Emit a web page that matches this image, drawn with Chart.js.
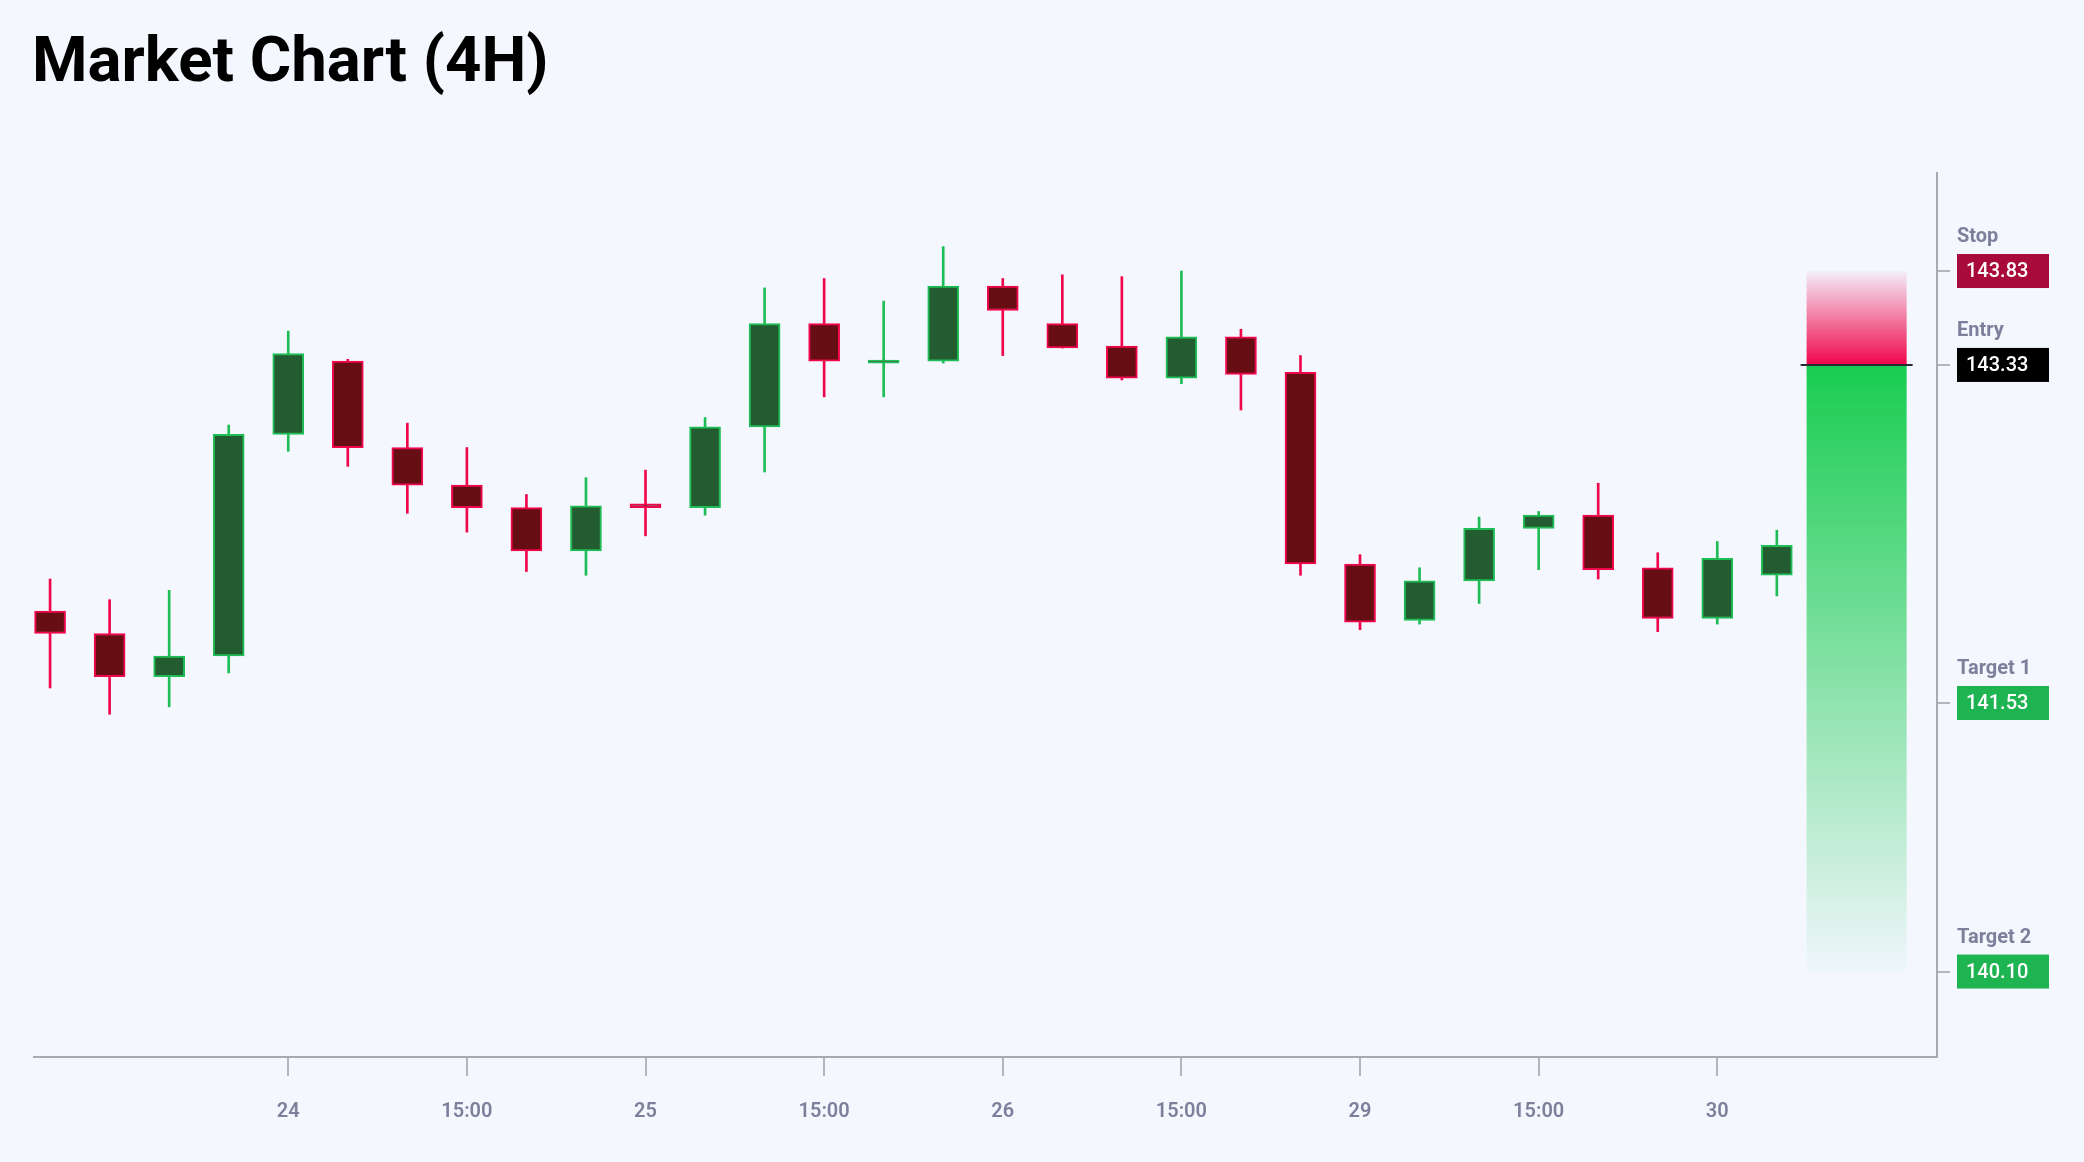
<!DOCTYPE html>
<html lang="en">
<head>
<meta charset="UTF-8">
<title>Market Chart (4H)</title>
<style>
    html, body {
        margin: 0;
        padding: 0;
        background: #f4f7fe;
    }
    body {
        width: 2084px;
        height: 1162px;
        position: relative;
        overflow: hidden;
        font-family: Roboto, Arial, sans-serif;
    }
    h1 {
        position: absolute;
        left: 32px;
        top: 28px;
        margin: 0;
        font-size: 63.5px;
        line-height: 1;
        font-weight: 700;
        color: #000;
    }
    canvas {
        position: absolute;
        left: 0;
        top: 0;
    }
</style>
</head>
<body>
<h1>Market Chart (4H)</h1>
<canvas id="chart" width="2084" height="1162"></canvas>

<script src="https://cdn.jsdelivr.net/npm/chart.js"></script>
<script>
    // 4H candles, oldest first
    const opens  = [142.02, 141.90, 141.67, 141.78, 142.96, 143.35, 142.89, 142.69, 142.57, 142.34,
                    142.59, 142.57, 143.00, 143.55, 143.34, 143.35, 143.75, 143.55, 143.43, 143.26,
                    143.48, 143.29, 142.27, 141.97, 142.18, 142.46, 142.53, 142.25, 141.98, 142.21];
    const highs  = [142.19, 142.08, 142.13, 143.01, 143.51, 143.36, 143.02, 142.89, 142.64, 142.73,
                    142.77, 143.05, 143.74, 143.79, 143.67, 143.96, 143.79, 143.81, 143.80, 143.83,
                    143.52, 143.38, 142.32, 142.25, 142.52, 142.55, 142.70, 142.33, 142.39, 142.45];
    const lows   = [141.61, 141.47, 141.51, 141.69, 142.87, 142.79, 142.54, 142.44, 142.23, 142.21,
                    142.42, 142.53, 142.76, 143.16, 143.16, 143.34, 143.38, 143.42, 143.25, 143.23,
                    143.09, 142.21, 141.92, 141.95, 142.06, 142.24, 142.19, 141.91, 141.95, 142.10];
    const closes = [141.90, 141.67, 141.78, 142.96, 143.39, 142.89, 142.69, 142.57, 142.34, 142.58,
                    142.57, 143.00, 143.55, 143.35, 143.35, 143.75, 143.62, 143.42, 143.26, 143.48,
                    143.28, 142.27, 141.96, 142.18, 142.46, 142.53, 142.24, 141.98, 142.30, 142.37];

    // x axis labels (candle index -> label)
    const xTickIndex  = [4, 7, 10, 13, 16, 19, 22, 25, 28];
    const xTickLabels = ['24', '15:00', '25', '15:00', '26', '15:00', '29', '15:00', '30'];
    const xRange = [-0.27, 31.69];
    const yRange = [139.645, 144.352];

    // trade levels
    const levelNames  = ['Stop', 'Entry', 'Target 1', 'Target 2'];
    const levelValues = [143.83, 143.33, 141.53, 140.10];
    const positionSpan = [29.5, 31.18];

    const UP_LINE = '#1fbd55', UP_FILL = '#245c31';
    const DOWN_LINE = '#f0064b', DOWN_FILL = '#670e14';
    const AXIS = '#a8aab2', TICK = '#b4b6bd', MUTED = '#7c809b';
    const levelColors = ['#a80a3b', '#000000', '#1fb452', '#1fb452'];

    const isUp = opens.map((o, i) => closes[i] >= o);
    const bodies = opens.map((o, i) => ({ x: i, y: [o, closes[i]] }));
    const wicks = lows.map((l, i) => ({ x: i, y: [l, highs[i]] }));

    const stop = levelValues[0], entry = levelValues[1], target = levelValues[3];

    const positionPlugin = {
        id: 'position',
        afterDatasetsDraw(chart) {
            const { ctx, scales: { x, y } } = chart;
            const x0 = x.getPixelForValue(positionSpan[0]);
            const x1 = x.getPixelForValue(positionSpan[1]);
            const yStop = y.getPixelForValue(stop);
            const yEntry = y.getPixelForValue(entry);
            const yTarget = y.getPixelForValue(target);
            ctx.save();
            let g = ctx.createLinearGradient(0, yStop, 0, yEntry);
            g.addColorStop(0, 'rgba(240, 6, 75, 0.03)');
            g.addColorStop(1, 'rgba(240, 6, 75, 1)');
            ctx.fillStyle = g;
            ctx.fillRect(x0, yStop, x1 - x0, yEntry - yStop);

            g = ctx.createLinearGradient(0, yEntry, 0, yTarget);
            g.addColorStop(0, 'rgba(24, 204, 80, 1)');
            g.addColorStop(1, 'rgba(24, 204, 80, 0.02)');
            ctx.fillStyle = g;
            ctx.fillRect(x0, yEntry, x1 - x0, yTarget - yEntry);

            ctx.strokeStyle = '#2b2b33';
            ctx.lineWidth = 2;
            ctx.beginPath();
            ctx.moveTo(x0 - 6, yEntry);
            ctx.lineTo(x1 + 6, yEntry);
            ctx.stroke();
            ctx.restore();
        },
        afterDraw(chart) {
            const { ctx, chartArea, scales: { y } } = chart;
            const left = chartArea.right + 20;
            ctx.save();
            levelValues.forEach((v, i) => {
                const py = y.getPixelForValue(v);
                ctx.fillStyle = levelColors[i];
                ctx.fillRect(left, py - 17, 92, 34);
                ctx.fillStyle = '#ffffff';
                ctx.font = '500 20px Roboto';
                ctx.textBaseline = 'middle';
                ctx.fillText(v.toFixed(2), left + 9, py + 1);
                ctx.fillStyle = MUTED;
                ctx.font = 'bold 20px Roboto';
                ctx.textBaseline = 'alphabetic';
                ctx.fillText(levelNames[i], left, py - 29);
            });
            ctx.restore();
        }
    };

    Chart.defaults.font.family = 'Roboto';

    const chart = new Chart(document.getElementById('chart'), {
        type: 'bar',
        data: {
            datasets: [{
                label: 'Body',
                data: bodies,
                backgroundColor: ctx => isUp[ctx.dataIndex] ? UP_FILL : DOWN_FILL,
                borderColor: ctx => isUp[ctx.dataIndex] ? UP_LINE : DOWN_LINE,
                borderWidth: 2,
                borderSkipped: false,
                barThickness: 31,
                minBarLength: 3,
                grouped: false,
                order: 0
            }, {
                label: 'Wick',
                data: wicks,
                backgroundColor: ctx => isUp[ctx.dataIndex] ? UP_LINE : DOWN_LINE,
                borderWidth: 0,
                barThickness: 2,
                grouped: false,
                order: 1
            }]
        },
        options: {
            responsive: false,
            maintainAspectRatio: false,
            animation: false,
            layout: { padding: { left: 34, top: 173, right: 0, bottom: 0 } },
            plugins: {
                legend: { display: false },
                tooltip: { enabled: false }
            },
            scales: {
                x: {
                    type: 'linear',
                    offset: false,
                    min: xRange[0],
                    max: xRange[1],
                    afterBuildTicks: s => { s.ticks = xTickIndex.map(v => ({ value: v })); },
                    afterFit: s => { s.height = 105; },
                    grid: { offset: false, drawOnChartArea: false, tickLength: 19, color: TICK, lineWidth: 2 },
                    border: { display: true, color: AXIS, width: 2 },
                    ticks: {
                        padding: 24,
                        color: MUTED,
                        font: { size: 20, weight: '600' },
                        maxRotation: 0,
                        autoSkip: false,
                        callback: v => xTickLabels[xTickIndex.indexOf(v)]
                    }
                },
                y: {
                    position: 'right',
                    min: yRange[0],
                    max: yRange[1],
                    afterBuildTicks: s => { s.ticks = levelValues.map(v => ({ value: v })); },
                    afterFit: s => { s.width = 147; },
                    grid: { drawOnChartArea: false, tickLength: 13, color: TICK, lineWidth: 2 },
                    border: { display: true, color: AXIS, width: 2 },
                    ticks: { callback: () => '' }
                }
            }
        },
        plugins: [positionPlugin]
    });
</script>
</body>
</html>
